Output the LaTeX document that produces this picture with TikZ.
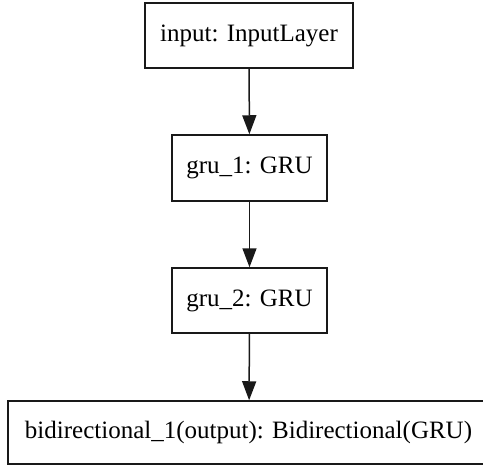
\documentclass[tikz,border=0pt]{standalone}
\usepackage{fontspec}
\setmainfont{Liberation Serif}
\usetikzlibrary{arrows.meta}
\begin{document}
\begin{tikzpicture}[x=1pt,y=-1pt,
  layer/.style={draw=black!90, line width=1.5pt, fill=white, inner sep=0pt, font=\fontsize{25}{30}\selectfont},
  conn/.style={draw=black!90, line width=1.5pt, -{Triangle[width=14pt,length=19pt]}}]
\useasboundingbox (0,0) rectangle (483,466);
\begin{scope}
\clip (0,0) rectangle (483,466);
\node[layer, minimum width=208pt, minimum height=65pt] (in) at (249,35.5) {input: InputLayer};
\node[layer, minimum width=155pt, minimum height=66pt] (g1) at (249.5,168) {gru\_1: GRU};
\node[layer, minimum width=155pt, minimum height=65pt] (g2) at (249.5,300.5) {gru\_2: GRU};
\node[layer, minimum width=482pt, minimum height=63pt] (bi) at (249,432.5) {\hspace*{-1pt}bidirectional\_1(output): Bidirectional(GRU)};
\draw[conn] (in) -- (g1);
\draw[conn] (g1) -- (g2);
\draw[conn] (g2) -- (bi);
\end{scope}
\end{tikzpicture}
\end{document}
